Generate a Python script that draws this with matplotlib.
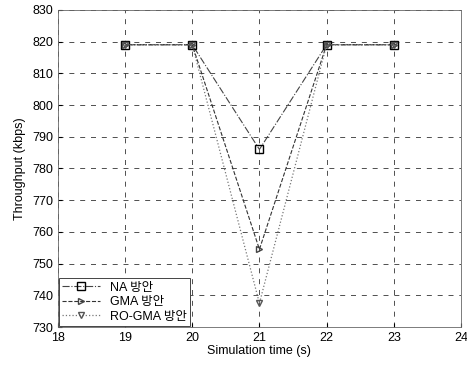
import matplotlib
matplotlib.use('Agg')
import matplotlib.pyplot as plt

plt.rcParams['font.family'] = ['Liberation Sans', 'Noto Sans CJK KR']

time = [19, 20, 21, 22, 23]
na = [819, 819, 786, 819, 819]
gma = [819, 819, 754.5, 819, 819]
ro_gma = [819, 819, 737.5, 819, 819]

labels = ['NA 방안', 'GMA 방안', 'RO-GMA 방안']

fig = plt.figure(figsize=(4.67, 3.65), dpi=100)
ax = fig.add_axes([0.124, 0.104, 0.863, 0.869])

ax.plot(time, na, color='#444444', linestyle='-.', linewidth=0.8,
        marker='s', markersize=6, markerfacecolor='none', markeredgecolor='black', label=labels[0])
ax.plot(time, gma, color='#333333', linestyle='--', linewidth=0.8,
        marker='>', markersize=4, markerfacecolor='none', markeredgecolor='#444444', label=labels[1])
ax.plot(time, ro_gma, color='#777777', linestyle=':', linewidth=0.9,
        marker='v', markersize=5, markerfacecolor='none', markeredgecolor='#555555', label=labels[2])

ax.set_xlim(18, 24)
ax.set_ylim(730, 830)
ax.set_xticks(range(18, 25))
ax.set_yticks(range(730, 831, 10))
ax.tick_params(direction='in', labelsize=9, length=3)
ax.grid(True, color='#333333', linestyle=(0, (6, 7)), linewidth=0.6)

for s in ax.spines.values():
    s.set_linewidth(0.6)
    s.set_color('#666666')

ax.set_xlabel('Simulation time (s)', fontsize=9, labelpad=1)
ax.set_ylabel('Throughput (kbps)', fontsize=9, labelpad=4)

leg = ax.legend(loc='lower left', fontsize=9, borderaxespad=0.05, handlelength=3,
                labelspacing=0.2, fancybox=False, framealpha=1, edgecolor='#444444',
                borderpad=0.3)
leg.get_frame().set_linewidth(0.7)

fig.savefig('out.png', dpi=100)
